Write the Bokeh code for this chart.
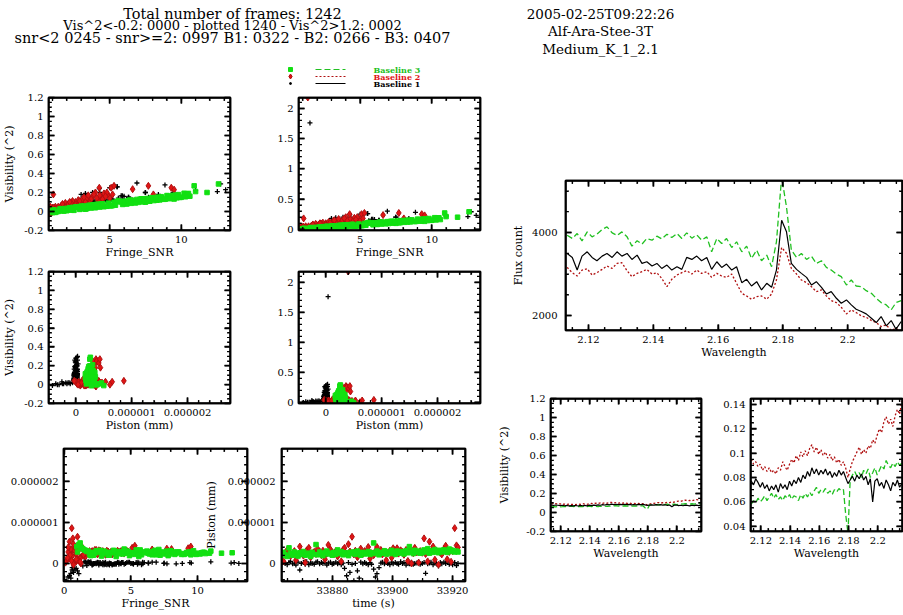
import math
from bokeh.plotting import figure
from bokeh.models import Range1d, SingleIntervalTicker, LinearAxis, NumeralTickFormatter, ColumnDataSource
from bokeh.layouts import row, column
from bokeh.embed import file_html
from bokeh.resources import INLINE
from bokeh.core.properties import value

# ---------------- data ----------------
title_lines = ["Total number of frames: 1242",
               "Vis^2<-0.2: 0000 - plotted 1240 - Vis^2>1.2: 0002",
               "snr<2 0245 - snr>=2: 0997 B1: 0322 - B2: 0266 - B3: 0407"]
info_lines = ["2005-02-25T09:22:26", "Alf-Ara-Stee-3T", "Medium_K_1_2.1"]
legend_labels = ["Baseline 3", "Baseline 2", "Baseline 1"]

time_s = [33862.4, 33863.0, 33863.7, 33864.2, 33864.9, 33865.5, 33866.0, 33866.7, 33867.3, 33867.8,
          33868.5, 33869.1, 33869.6, 33870.3, 33870.9, 33871.4, 33872.1, 33872.7, 33873.2, 33873.9,
          33874.5, 33875.0, 33875.7, 33876.3, 33876.8, 33877.5, 33878.1, 33878.6, 33879.3, 33879.9,
          33880.4, 33881.1, 33881.7, 33882.2, 33882.9, 33883.5, 33884.0, 33884.7, 33885.3, 33885.8,
          33886.5, 33887.1, 33887.6, 33888.3, 33888.9, 33889.4, 33890.1, 33890.7, 33891.2, 33891.9,
          33892.5, 33893.0, 33893.7, 33894.3, 33894.8, 33895.5, 33896.1, 33896.6, 33897.3, 33897.9,
          33898.4, 33899.1, 33899.7, 33900.2, 33900.9, 33901.5, 33902.0, 33902.7, 33903.3, 33903.8,
          33904.5, 33905.1, 33905.6, 33906.3, 33906.9, 33907.4, 33908.1, 33908.7, 33909.2, 33909.9,
          33910.5, 33911.0, 33911.7, 33912.3, 33912.8, 33913.5, 33914.1, 33914.6, 33915.3, 33915.9,
          33916.4, 33917.1, 33917.7, 33918.2, 33918.9, 33919.5, 33920.0, 33920.7, 33921.3, 33921.8]

# Baseline 1 (black)
snr_b1 = [2.4, 3.8, 1.9, 5.2, 2.9, 4.3, 1.6, 3.3, 6.3, 2.1,
          4.8, 0.6, 3.0, 2.6, 5.5, 1.8, 3.6, 7.5, 2.3, 4.1,
          3.1, 1.5, 5.9, 2.7, 4.6, 12.75, 3.4, 2.0, 6.9, 3.9,
          5.0, 2.5, 8.4, 4.4, 3.2, 1.7, 0.9, 0.4, 5.4, 0.7,
          3.7, 0.2, 2.2, 1.0, 0.5, 4.0, 2.8, 6.0, 3.5, 5.8,
          1.9, 4.5, 0.8, 0.3, 1.1, 0.6, 3.0, 5.53, 2.4, 9.43,
          4.2, 3.6, 1.6, 7.71, 2.9, 5.1, 3.3, 2.0, 8.86, 4.7,
          2.6, 6.33, 3.8, 1.8, 5.19, 2.3, 12.52, 4.9, 3.1, 7.48,
          2.5, 0.5, 4.27, 3.4, 5.88, 2.1, 9.54, 3.9, 1.4, 4.4,
          2.7, 6.6, 3.5, 11.0, 2.2, 5.6, 3.0, 4.1, 1.7, 13.1]
vis2_b1 = [0.06, 0.10, 0.04, 0.12, 0.08, 0.20, 0.03, 0.09, 0.15, 0.05,
           0.11, 0.01, 0.18, 0.07, 0.26, 0.02, 0.12, 0.20, 0.06, 0.09,
           0.14, 1.76, 0.13, 0.08, 0.17, 0.29, 0.10, 0.05, 0.30, 0.11,
           0.25, 0.03, 0.18, 0.14, 0.07, 0.04, 0.02, 0.00, 0.10, 0.01,
           0.13, -0.01, 0.06, 0.02, 0.01, 0.09, 0.05, 0.16, 0.12, 0.165,
           0.03, 0.13, 0.02, 0.00, 0.03, 0.01, 0.08, 0.26, 0.04, 0.20,
           0.11, 0.09, 0.05, 0.15, 0.07, 0.13, 0.19, 0.04, 0.28, 0.12,
           0.06, 0.15, 0.20, 0.03, 0.13, 0.05, 0.21, 0.10, 0.06, 0.20,
           0.07, 0.01, 0.24, 0.08, 0.165, 0.04, 0.15, 0.10, 0.02, 0.16,
           0.05, 0.12, 0.09, 0.22, 0.03, 0.14, 0.11, 0.08, 0.04, 0.23]
piston_b1_nm = [0.01, -0.02, 0.03, 0.00, -0.03, 0.02, 0.05, -0.01, 0.01, -0.04,
                0.03, -0.16, 0.00, 0.02, -0.02, 0.04, -0.03, 0.01, 0.00, -0.02,
                0.03, 0.04, -0.01, 0.02, 0.00, 0.02, -0.04, 0.01, 0.03, -0.02,
                0.00, 0.03, -0.01, 0.02, -0.03, 0.01, -0.12, -0.30, 0.02, -0.22,
                -0.02, -0.42, 0.00, -0.18, -0.36, 0.03, -0.01, 0.02, 0.00, -0.03,
                0.02, -0.02, -0.14, -0.33, -0.25, -0.10, 0.01, 0.03, -0.01, 0.02,
                0.00, -0.03, 0.03, -0.01, 0.02, 0.00, -0.02, 0.04, 0.00, 0.02,
                -0.04, 0.01, -0.01, 0.03, -0.02, 0.00, 0.01, 0.03, -0.02, 0.00,
                0.02, -0.24, -0.01, 0.01, 0.03, -0.03, 0.01, 0.00, -0.06, 0.02,
                -0.01, 0.03, 0.00, 0.04, -0.02, 0.01, -0.03, 0.02, -0.05, 0.00]

# Baseline 2 (red)
snr_b2 = [0.4, 2.3, 0.9, 3.6, 1.1, 4.4, 0.6, 1.8, 2.9, 0.2,
          3.1, 1.0, 4.9, 1.5, 0.7, 2.6, 5.1, 1.2, 3.8, 0.3,
          2.0, 0.8, 4.2, 1.4, 2.7, 0.5, 3.4, 1.1, 6.6, 1.9,
          0.9, 4.6, 1.6, 3.0, 0.15, 2.4, 1.3, 5.0, 0.7, 3.3,
          1.0, 2.2, 4.0, 0.35, 1.7, 7.7, 2.8, 0.8, 3.7, 1.35,
          1.2, 4.3, 0.45, 2.1, 1.1, 3.9, 0.6, 2.5, 4.8, 0.95,
          1.6, 3.2, 0.25, 9.3, 2.0, 1.05, 4.5, 0.75, 3.5, 1.45,
          2.3, 0.55, 8.05, 1.25, 2.9, 0.85, 4.1, 0.1, 1.9, 5.2,
          0.65, 3.6, 1.15, 0.4, 2.6, 9.5, 1.0, 4.7, 0.7, 1.7,
          3.1, 0.5, 5.3, 0.9, 2.2, 1.2, 4.27, 0.57, 1.06, 0.3]
vis2_b2 = [0.01, 0.07, 0.02, 0.12, 0.03, 0.15, -0.01, 0.05, 0.09, 0.00,
           0.13, 0.04, 0.17, 0.03, 0.01, 0.10, 0.25, 0.00, 0.16, 0.02,
           0.06, -0.02, 0.11, 0.05, 0.08, 0.01, 0.14, 0.02, 0.235, 0.09,
           0.00, 0.19, 0.04, 0.07, 0.03, 0.11, 0.01, 0.14, 0.02, 0.10,
           0.03, 0.04, 0.20, -0.01, 0.07, 0.27, 0.12, 0.01, 0.13, 2.18,
           0.05, 0.17, 0.00, 0.08, 0.02, 0.18, 0.03, 0.05, 0.20, -0.01,
           0.06, 0.15, 0.02, 0.25, 0.03, 0.04, 0.13, 0.00, 0.17, 0.02,
           0.09, 0.01, 0.18, 0.03, 0.11, 0.05, 0.14, 0.02, 0.04, 0.18,
           0.00, 0.09, 0.02, 0.03, 0.07, 0.23, 0.01, 0.16, 0.04, 0.08,
           0.06, -0.01, 0.27, 0.02, 0.10, 0.00, 0.25, 0.04, 0.18, 0.01]
piston_b2_nm = [0.12, 0.26, 0.05, 0.22, 0.33, 0.28, 0.18, 0.24, 0.30, 0.08,
                0.21, 0.41, 0.27, 0.19, 0.02, 0.32, 0.38, 0.15, 0.25, 0.28,
                0.23, 0.36, 0.29, 0.20, 0.31, 0.10, 0.24, 0.45, 0.34, 0.27,
                0.22, 0.30, 0.17, 0.26, 0.05, 0.33, 0.38, 0.24, 0.47, 0.29,
                0.65, 0.22, 0.31, 0.15, 0.26, 0.36, 0.23, 0.30, 0.28, 0.40,
                0.12, 0.25, 0.20, 0.30, 0.40, 0.27, 0.33, 0.22, 0.29, 0.08,
                0.25, 0.31, 0.14, 0.37, 0.26, 0.37, 0.24, 0.32, 0.28, 0.21,
                0.33, 0.06, 0.35, 0.00, 0.25, 0.38, 0.27, 0.02, 0.30, 0.26,
                0.61, 0.23, 0.05, 0.53, 0.29, 0.41, 0.09, 0.31, -0.03, 0.26,
                0.22, 0.35, 0.43, 0.10, 0.28, 0.04, 0.30, 0.86, 0.44, 0.39]

# Baseline 3 (green)
snr_b3 = [4.2, 7.8, 2.1, 9.5, 5.6, 1.3, 8.4, 3.3, 6.7, 10.2,
          2.8, 5.1, 9.0, 1.7, 7.2, 4.6, 10.6, 3.9, 6.1, 8.8,
          1.1, 5.8, 2.5, 9.8, 4.9, 7.5, 3.0, 6.4, 10.9, 2.2,
          8.1, 5.3, 1.5, 9.3, 4.0, 6.9, 3.6, 7.9, 2.0, 10.4,
          5.0, 8.6, 1.9, 6.2, 9.6, 3.4, 7.0, 4.4, 11.8, 2.6,
          8.3, 5.5, 1.2, 9.1, 4.7, 6.6, 3.1, 10.0, 2.4, 7.6,
          5.9, 8.9, 1.6, 6.0, 9.9, 3.8, 7.3, 4.3, 10.5, 2.9,
          8.0, 5.2, 0.95, 9.4, 4.1, 6.8, 3.5, 7.7, 2.3, 12.6,
          5.7, 8.5, 1.4, 6.3, 9.7, 3.2, 7.1, 4.8, 10.3, 2.7,
          8.2, 5.4, 1.8, 9.2, 4.5, 6.5, 3.7, 7.4, 11.0, 1.0]
vis2_b3 = [0.075, 0.108, 0.031, 0.131, 0.115, -0.002, 0.151, 0.024, 0.106, 0.192,
           0.044, 0.059, 0.168, 0.006, 0.134, 0.050, 0.161, 0.072, 0.083, 0.128,
           0.018, 0.101, 0.012, 0.178, 0.088, 0.098, 0.057, 0.121, 0.270, 0.040,
           0.115, 0.097, 0.025, 0.139, 0.039, 0.127, 0.066, 0.142, 0.008, 0.186,
           0.062, 0.156, 0.032, 0.079, 0.172, 0.030, 0.096, 0.081, 0.200, 0.047,
           0.119, 0.103, -0.010, 0.162, 0.056, 0.118, 0.028, 0.149, 0.043, 0.137,
           0.074, 0.130, 0.030, 0.109, 0.148, 0.069, 0.101, 0.046, 0.190, 0.022,
           0.145, 0.063, 0.010, 0.170, 0.076, 0.090, 0.063, 0.109, 0.014, 0.290,
           0.104, 0.122, 0.000, 0.114, 0.144, 0.058, 0.128, 0.055, 0.155, 0.050,
           0.148, 0.066, 0.005, 0.135, 0.082, 0.086, 0.036, 0.133, 0.210, -0.012]
piston_b3_nm = [0.24, 0.19, 0.27, 0.21, 0.17, 0.38, 0.25, 0.20, 0.28, 0.23,
                0.18, 0.26, 0.22, 0.29, 0.20, 0.25, 0.24, 0.17, 0.27, 0.22,
                0.46, 0.21, 0.28, 0.24, 0.19, 0.26, 0.30, 0.23, 0.25, 0.20,
                0.27, 0.22, 0.33, 0.25, 0.29, 0.21, 0.26, 0.23, 0.19, 0.27,
                0.24, 0.28, 0.22, 0.30, 0.25, 0.20, 0.27, 0.23, 0.25, 0.29,
                0.22, 0.26, 0.50, 0.24, 0.30, 0.21, 0.27, 0.25, 0.31, 0.23,
                0.28, 0.24, 0.32, 0.26, 0.22, 0.30, 0.25, 0.29, 0.27, 0.23,
                0.31, 0.26, 0.41, 0.28, 0.24, 0.32, 0.27, 0.30, 0.25, 0.26,
                0.33, 0.28, 0.36, 0.25, 0.31, 0.27, 0.34, 0.29, 0.26, 0.32,
                0.28, 0.33, 0.30, 0.27, 0.35, 0.29, 0.32, 0.28, 0.30, 0.28]

# Spectra
wavelength = [2.1134, 2.1150, 2.1165, 2.1180, 2.1196, 2.1211, 2.1226, 2.1242, 2.1257, 2.1273,
              2.1288, 2.1303, 2.1319, 2.1334, 2.1350, 2.1365, 2.1380, 2.1396, 2.1411, 2.1426,
              2.1442, 2.1457, 2.1473, 2.1488, 2.1503, 2.1519, 2.1534, 2.1549, 2.1565, 2.1580,
              2.1596, 2.1611, 2.1626, 2.1642, 2.1657, 2.1673, 2.1688, 2.1703, 2.1719, 2.1734,
              2.1750, 2.1765, 2.1780, 2.1796, 2.1811, 2.1826, 2.1842, 2.1857, 2.1873, 2.1888,
              2.1903, 2.1919, 2.1934, 2.1949, 2.1965, 2.1980, 2.1996, 2.2011, 2.2026, 2.2042,
              2.2057, 2.2073, 2.2088, 2.2103, 2.2119, 2.2134, 2.2149, 2.2165]
flux_b1 = [3496, 3400, 3096, 3432, 3536, 3400, 3320, 3432, 3496, 3400,
           3536, 3432, 3496, 3352, 3456, 3256, 3296, 3192, 3256, 3136,
           3216, 3096, 3176, 3112, 3400, 3352, 3432, 3320, 3400, 3112,
           3296, 3160, 3240, 3096, 3176, 2792, 2872, 2712, 2816, 2616,
           2776, 2680, 3096, 4296, 4016, 3256, 3112, 3016, 2920, 2736,
           2816, 2680, 2520, 2576, 2416, 2296, 2376, 2256, 2152, 2096,
           2040, 1936, 1832, 1976, 1752, 1880, 1672, 1856]
flux_b2 = [3160, 3032, 2952, 3096, 3128, 2976, 3032, 3112, 3192, 3136,
           3256, 3272, 3080, 2936, 3016, 3056, 3112, 3000, 3032, 2896,
           2696, 2872, 2976, 3032, 3080, 3000, 3096, 3016, 3056, 2920,
           3016, 2952, 2920, 3000, 2776, 2536, 2472, 2392, 2456, 2472,
           2392, 2520, 2856, 3640, 3500, 3136, 3000, 2856, 2792, 2696,
           2576, 2616, 2472, 2360, 2312, 2200, 2040, 2136, 2072, 1992,
           1960, 1880, 1832, 1736, 1776, 1640, 1696, 1592]
flux_b3 = [3936, 3856, 3976, 3800, 4016, 3896, 3960, 4072, 4136, 3992,
           3928, 4016, 3896, 3672, 3800, 3720, 3856, 3816, 3912, 3848,
           3960, 3880, 3976, 3856, 3992, 3864, 3944, 3816, 3896, 3536,
           3856, 3736, 3856, 3640, 3776, 3536, 3672, 3376, 3576, 3320,
           3456, 3176, 3776, 5336, 4616, 3576, 3400, 3496, 3352, 3432,
           3256, 3320, 3160, 3096, 3000, 2936, 2736, 2856, 2712, 2696,
           2600, 2536, 2416, 2312, 2256, 2136, 2312, 2360]
vis2_spec_b1 = [0.077, 0.074, 0.079, 0.076, 0.072, 0.076, 0.071, 0.074, 0.069, 0.073,
                0.070, 0.074, 0.068, 0.075, 0.071, 0.074, 0.070, 0.077, 0.073, 0.078,
                0.075, 0.080, 0.076, 0.082, 0.079, 0.085, 0.081, 0.088, 0.083, 0.087,
                0.082, 0.086, 0.083, 0.087, 0.082, 0.085, 0.080, 0.084, 0.081, 0.086,
                0.082, 0.085, 0.080, 0.075, 0.078, 0.081, 0.077, 0.082, 0.079, 0.083,
                0.078, 0.081, 0.074, 0.079, 0.060, 0.077, 0.079, 0.073, 0.076, 0.071,
                0.078, 0.074, 0.069, 0.076, 0.073, 0.078, 0.072, 0.075]
vis2_spec_b2 = [0.095, 0.091, 0.093, 0.089, 0.091, 0.086, 0.089, 0.085, 0.088, 0.084,
                0.086, 0.083, 0.088, 0.086, 0.093, 0.089, 0.086, 0.091, 0.095, 0.092,
                0.098, 0.094, 0.101, 0.097, 0.102, 0.098, 0.104, 0.107, 0.101, 0.105,
                0.099, 0.103, 0.098, 0.101, 0.096, 0.099, 0.094, 0.097, 0.092, 0.095,
                0.090, 0.093, 0.088, 0.080, 0.087, 0.093, 0.097, 0.101, 0.105, 0.099,
                0.103, 0.100, 0.106, 0.104, 0.111, 0.108, 0.115, 0.120, 0.117, 0.126,
                0.130, 0.124, 0.128, 0.122, 0.131, 0.136, 0.132, 0.143]
vis2_spec_b3 = [0.058, 0.061, 0.059, 0.063, 0.060, 0.062, 0.065, 0.061, 0.064, 0.067,
                0.063, 0.066, 0.062, 0.064, 0.061, 0.065, 0.063, 0.066, 0.062, 0.065,
                0.064, 0.061, 0.066, 0.063, 0.067, 0.064, 0.068, 0.065, 0.069, 0.072,
                0.067, 0.070, 0.068, 0.071, 0.067, 0.069, 0.066, 0.070, 0.068, 0.071,
                0.069, 0.070, 0.050, 0.034, 0.078, 0.082, 0.085, 0.081, 0.084, 0.080,
                0.086, 0.083, 0.087, 0.080, 0.084, 0.088, 0.082, 0.086, 0.090, 0.087,
                0.094, 0.090, 0.088, 0.092, 0.089, 0.093, 0.090, 0.092]

# ---------------- styling ----------------
FONT = "DejaVu Serif"
GREEN = "#12e012"
RED = "#e01414"
DRED = "#b01010"
NUMFMT = "0.[000000]"


def src(snr, vis2, piston_nm):
    return ColumnDataSource(dict(snr=snr, vis2=vis2,
                                 piston=[v * 1e-6 for v in piston_nm], time=time_s))


src_b1 = src(snr_b1, vis2_b1, piston_b1_nm)
src_b2 = src(snr_b2, vis2_b2, piston_b2_nm)
src_b3 = src(snr_b3, vis2_b3, piston_b3_nm)


def tick_values(lo, hi, interval, nminor):
    step = interval / nminor
    k0 = math.ceil(lo / step - 1e-6)
    k1 = math.floor(hi / step + 1e-6)
    majors, minors = [], []
    for k in range(k0, k1 + 1):
        (majors if k % nminor == 0 else minors).append(k * step)
    return majors, minors


def add_axis(p, loc, interval, nminor, show, label=None, label_standoff=0, tick_standoff=5):
    ax = LinearAxis(ticker=SingleIntervalTicker(interval=interval, num_minor_ticks=nminor),
                    formatter=NumeralTickFormatter(format=NUMFMT))
    ax.major_tick_in = 6
    ax.major_tick_out = 0
    ax.minor_tick_in = 3
    ax.minor_tick_out = 0
    ax.axis_line_color = "black"
    ax.axis_line_width = 1.5
    ax.major_tick_line_color = "black"
    ax.minor_tick_line_color = "black"
    ax.major_tick_line_width = 1.5
    ax.minor_tick_line_width = 1.2
    ax.major_label_text_font = FONT
    if show:
        ax.major_label_text_font_size = "10px"
        ax.major_label_text_color = "black"
        ax.major_label_standoff = tick_standoff
    else:
        ax.major_label_text_font_size = "1px"
        ax.major_label_text_color = None
        ax.major_label_standoff = 0
    if label:
        ax.axis_label = label
        ax.axis_label_text_font = FONT
        ax.axis_label_text_font_size = "11px"
        ax.axis_label_text_font_style = "normal"
        ax.axis_label_text_color = "black"
        ax.axis_label_standoff = label_standoff
    p.add_layout(ax, loc)


def panel(w, h, borders, xr, yr, xt, yt, draw, xlabel=None, ylabel=None,
          ylabel_standoff=0, ytick_standoff=5, transparent=False):
    bl, br, bt, bb = borders
    p = figure(width=w, height=h, x_range=Range1d(*xr), y_range=Range1d(*yr),
               x_axis_type=None, y_axis_type=None, output_backend="svg",
               toolbar_location=None, title=None,
               min_border_left=bl, min_border_right=br,
               min_border_top=bt, min_border_bottom=bb)
    p.outline_line_color = "black"
    p.outline_line_width = 1.5
    if transparent:
        p.border_fill_alpha = 0.0
        p.background_fill_alpha = 0.0
    add_axis(p, "below", xt[0], xt[1], True, xlabel)
    add_axis(p, "left", yt[0], yt[1], True, ylabel, ylabel_standoff, ytick_standoff)
    add_axis(p, "above", xt[0], xt[1], False)
    add_axis(p, "right", yt[0], yt[1], False)
    draw(p)
    # PGPLOT-style box: inward ticks on all four sides plus the frame line
    fw = w - bl - br
    fh = h - bt - bb
    dx = (xr[1] - xr[0]) / fw
    dy = (yr[1] - yr[0]) / fh
    xmaj, xmin = tick_values(xr[0], xr[1], *xt)
    ymaj, ymin = tick_values(yr[0], yr[1], *yt)
    for vals, L, lw in ((xmaj, 6, 1.5), (xmin, 3.5, 1.2)):
        n = len(vals)
        p.segment(x0=vals, y0=[yr[0]] * n, x1=vals, y1=[yr[0] + L * dy] * n,
                  line_color="black", line_width=lw)
        p.segment(x0=vals, y0=[yr[1]] * n, x1=vals, y1=[yr[1] - L * dy] * n,
                  line_color="black", line_width=lw)
    for vals, L, lw in ((ymaj, 6, 1.5), (ymin, 3.5, 1.2)):
        n = len(vals)
        p.segment(x0=[xr[0]] * n, y0=vals, x1=[xr[0] + L * dx] * n, y1=vals,
                  line_color="black", line_width=lw)
        p.segment(x0=[xr[1]] * n, y0=vals, x1=[xr[1] - L * dx] * n, y1=vals,
                  line_color="black", line_width=lw)
    p.quad(left=[xr[0]], right=[xr[1]], bottom=[yr[0]], top=[yr[1]],
           fill_color=None, line_color="black", line_width=2.5)
    return p


def scatter_all(xcol, ycol):
    def draw(p):
        p.scatter(xcol, ycol, source=src_b1, marker="cross", size=5, line_color="black", line_width=1.3)
        p.scatter(xcol, ycol, source=src_b2, marker="diamond", size=7, fill_color=RED, line_color=DRED)
        p.scatter(xcol, ycol, source=src_b3, marker="square", size=4.5, fill_color=GREEN, line_color=GREEN)
    return draw


def lines_all(y1, y2, y3):
    def draw(p):
        p.line(wavelength, y2, line_color=DRED, line_dash="2 2", line_width=1.3)
        p.line(wavelength, y3, line_color="#20c020", line_dash="6 3", line_width=1.3)
        p.line(wavelength, y1, line_color="black", line_width=1.2)
    return draw


VIS_T = (0.2, 4)
VIS_BIG_T = (0.5, 5)
SNR_T = (5, 5)
PIS_T = (1e-6, 5)
WL_T = (0.02, 4)
WL_R = (2.1129, 2.2169)
VIS_R = (-0.2001, 1.2001)
VIS_BIG_R = (-0.02, 2.18)
PIS_R = (-0.49e-6, 2.77e-6)
PIS_RY = (-0.44e-6, 2.8e-6)

pA = panel(264, 172, (45, 34, 7, 32), (0.72, 13.44), VIS_R, SNR_T, VIS_T,
           scatter_all("snr", "vis2"), "Fringe_SNR", "Visibility (^2)", ylabel_standoff=5)
pB = panel(226, 172, (34, 10, 7, 32), (0.7, 13.4), VIS_BIG_R, SNR_T, VIS_BIG_T,
           scatter_all("snr", "vis2"), "Fringe_SNR")

pC = panel(264, 178, (45, 34, 8, 36), PIS_R, VIS_R, PIS_T, VIS_T,
           scatter_all("piston", "vis2"), "Piston (mm)", "Visibility (^2)", ylabel_standoff=5)
pD = panel(226, 178, (34, 10, 9, 37), PIS_R, VIS_BIG_R, PIS_T, VIS_BIG_T,
           scatter_all("piston", "vis2"), "Piston (mm)")

pE = panel(264, 175, (63, 17, 8, 34), (-0.05, 13.75), PIS_RY, SNR_T, PIS_T,
           scatter_all("snr", "piston"), "Fringe_SNR")
pF = panel(290, 175, (81, 25, 8, 34), (33863.0, 33924.3), PIS_RY, (20, 4), PIS_T,
           scatter_all("time", "piston"), "time (s)", "Piston (mm)",
           ylabel_standoff=7, ytick_standoff=6, transparent=True)
pF.margin = (0, 0, 0, -64)

pFlux = panel(413, 280, (75, 1, 90, 40), WL_R, (1640, 5253), WL_T, (2000, 4),
              lines_all(flux_b1, flux_b2, flux_b3), "Wavelength", "Flux count",
              ylabel_standoff=4, ytick_standoff=8)

pG = panel(225, 245, (60, 14, 26, 83), WL_R, VIS_R, WL_T, VIS_T,
           lines_all(vis2_spec_b1, vis2_spec_b2, vis2_spec_b3),
           "Wavelength", "Visibility (^2)", ylabel_standoff=12)
pH = panel(188, 245, (35, 1, 28, 84), WL_R, (0.0356, 0.145), WL_T, (0.02, 4),
           lines_all(vis2_spec_b1, vis2_spec_b2, vis2_spec_b3), "Wavelength")

# header with titles and legend
hdr = figure(width=903, height=90, x_range=Range1d(0, 903), y_range=Range1d(90, 0),
             x_axis_type=None, y_axis_type=None, output_backend="svg",
             toolbar_location=None, title=None, min_border=0)
hdr.outline_line_color = None
hdr.text(x=[232, 232, 232], y=[13, 25, 37], text=title_lines, text_font=value(FONT),
         text_font_size=["14.5px", "13px", "14.5px"], text_align="center",
         text_baseline="middle", text_color="black")
hdr.text(x=[600, 600, 600], y=[13, 30, 48], text=info_lines, text_font=value(FONT),
         text_font_size=value("13.5px"), text_align="center", text_baseline="middle",
         text_color="black")
hdr.scatter([290], [69], marker="square", size=4, fill_color=GREEN, line_color=GREEN)
hdr.scatter([290], [76], marker="diamond", size=5, fill_color=RED, line_color=DRED)
hdr.scatter([290], [83], marker="circle", size=2, fill_color="black", line_color="black")
hdr.line([315, 345], [69, 69], line_color="#20c020", line_dash="6 3")
hdr.line([315, 345], [76, 76], line_color=DRED, line_dash="2 2")
hdr.line([315, 345], [83, 83], line_color="black")
hdr.text(x=[373, 373, 373], y=[69, 76, 83], text=legend_labels,
         text_color=["#20c020", RED, "black"], text_font=value(FONT),
         text_font_style=value("bold"), text_font_size=value("8px"),
         text_baseline="middle", text_align="left")

left_col = column(row(pA, pB), row(pC, pD), row(pE, pF))
right_col = column(pFlux, row(pG, pH))
root = column(hdr, row(left_col, right_col))

open("out.html", "w").write(file_html(root, INLINE))
